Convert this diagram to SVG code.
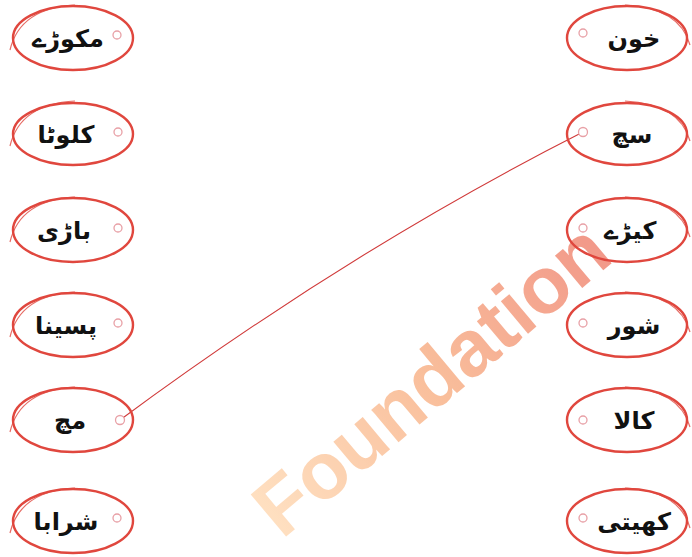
<svg xmlns="http://www.w3.org/2000/svg" width="692" height="557" viewBox="0 0 692 557">
<defs>
<linearGradient id="wm" x1="0" y1="0" x2="1" y2="0">
<stop offset="0" stop-color="#ffc890"/>
<stop offset="0.5" stop-color="#f58a4a"/>
<stop offset="1" stop-color="#e8452a"/>
</linearGradient>
<style>
.ov{fill:none;stroke:#e0473e;stroke-width:2.4}
.ov2{fill:none;stroke:#e0473e;stroke-width:1.2;opacity:0.8}
.dot{fill:#fff;stroke:#e8a0a6;stroke-width:1.3}
.t{font-family:"DejaVu Sans","Noto Sans",sans-serif;font-weight:bold;font-size:24px;fill:#111;text-anchor:middle;direction:rtl}
.wm{font-family:"Liberation Sans",Arial,sans-serif;font-weight:bold;font-size:80px;fill:url(#wm);opacity:0.55}
</style>
</defs>
<rect width="692" height="557" fill="#fff"/>
<text class="wm" transform="translate(282,540) rotate(-40)">Foundation</text>
<g id="connectors">
<path d="M583,132 Q350,250 120,420" fill="none" stroke="#d03a3a" stroke-width="1.1"/>
</g>
<g id="l1"><ellipse class="ov" cx="73" cy="38" rx="60" ry="32"/><path class="ov2" d="M10,50 Q20,8 75,5"/><circle class="dot" cx="117" cy="35" r="4"/><text class="t" x="68" y="47">مکوڑے</text></g>
<g id="l2"><ellipse class="ov" cx="73" cy="134" rx="60" ry="31"/><path class="ov2" d="M10,146 Q20,104 75,101"/><circle class="dot" cx="118" cy="132" r="4"/><text class="t" x="66" y="143">کلوٹا</text></g>
<g id="l3"><ellipse class="ov" cx="73" cy="230" rx="60" ry="32"/><path class="ov2" d="M10,242 Q20,200 75,197"/><circle class="dot" cx="118" cy="228" r="4"/><text class="t" x="64" y="239">باڑی</text></g>
<g id="l4"><ellipse class="ov" cx="73" cy="325" rx="60" ry="32"/><path class="ov2" d="M10,337 Q20,295 75,292"/><circle class="dot" cx="118" cy="323" r="4"/><text class="t" x="66" y="334">پسینا</text></g>
<g id="l5"><ellipse class="ov" cx="73" cy="420" rx="60" ry="32"/><path class="ov2" d="M10,432 Q20,390 75,387"/><circle class="dot" cx="120" cy="420" r="4.5"/><text class="t" x="70" y="429">مچ</text></g>
<g id="l6"><ellipse class="ov" cx="73" cy="521" rx="60" ry="32"/><path class="ov2" d="M10,533 Q20,491 75,488"/><circle class="dot" cx="117" cy="518" r="4"/><text class="t" x="66" y="530">شرابا</text></g>
<g id="r1"><ellipse class="ov" cx="627" cy="38" rx="60" ry="32"/><path class="ov2" d="M625,5 Q680,8 690,45"/><circle class="dot" cx="583" cy="33" r="4"/><text class="t" x="634" y="47">خون</text></g>
<g id="r2"><ellipse class="ov" cx="627" cy="134" rx="60" ry="31"/><path class="ov2" d="M625,101 Q680,104 690,141"/><circle class="dot" cx="583" cy="132" r="4.5"/><text class="t" x="632" y="143">سچ</text></g>
<g id="r3"><ellipse class="ov" cx="627" cy="230" rx="60" ry="32"/><path class="ov2" d="M625,197 Q680,200 690,237"/><circle class="dot" cx="583" cy="228" r="4"/><text class="t" x="630" y="239">کیڑے</text></g>
<g id="r4"><ellipse class="ov" cx="627" cy="325" rx="60" ry="32"/><path class="ov2" d="M625,292 Q680,295 690,332"/><circle class="dot" cx="583" cy="323" r="4"/><text class="t" x="634" y="334">شور</text></g>
<g id="r5"><ellipse class="ov" cx="627" cy="420" rx="60" ry="32"/><path class="ov2" d="M625,387 Q680,390 690,427"/><circle class="dot" cx="583" cy="420" r="4"/><text class="t" x="634" y="429">کالا</text></g>
<g id="r6"><ellipse class="ov" cx="627" cy="521" rx="60" ry="32"/><path class="ov2" d="M625,488 Q680,491 690,528"/><circle class="dot" cx="583" cy="518" r="4"/><text class="t" x="634" y="530">کھیتی</text></g>
</svg>
